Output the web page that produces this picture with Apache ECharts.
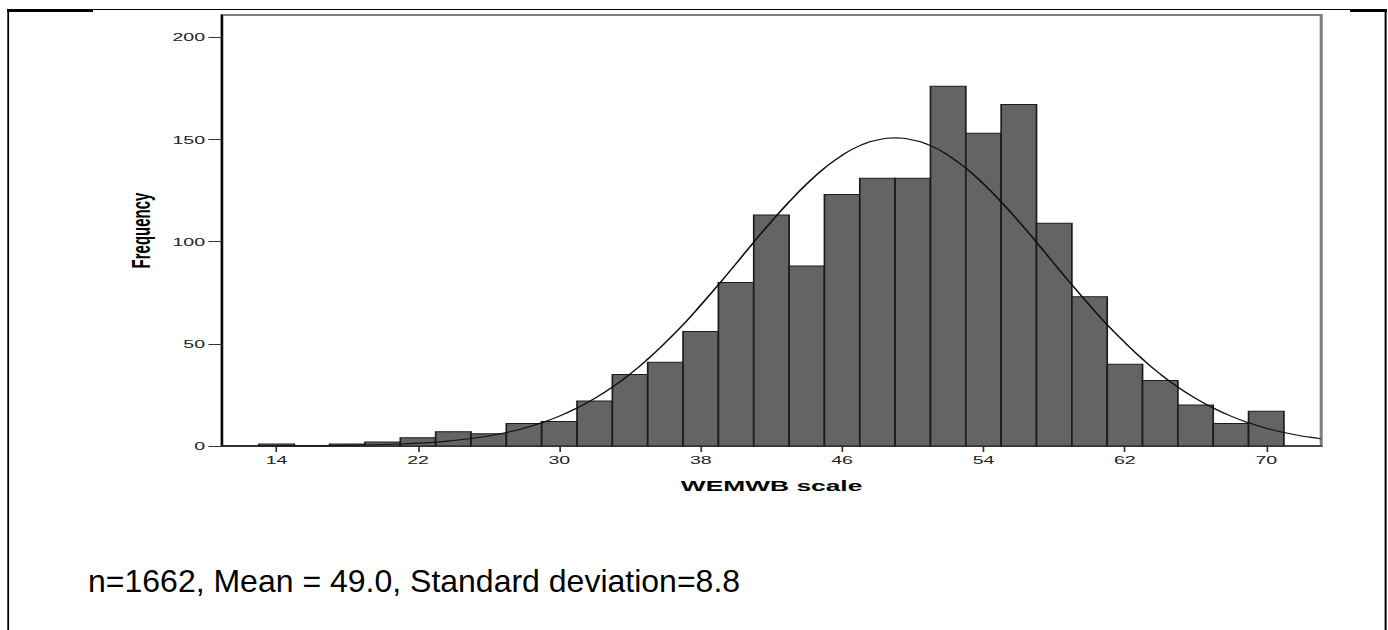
<!DOCTYPE html>
<html>
<head>
<meta charset="utf-8">
<title>WEMWB scale histogram</title>
<script src="https://cdn.jsdelivr.net/npm/echarts@6.0.0/dist/echarts.min.js"></script>
<style>
  html, body { margin: 0; padding: 0; background: #fff; }
  body { width: 1388px; height: 630px; position: relative; overflow: hidden; }
  /* the source plot is stretched sideways, so it is drawn narrow and widened */
  #hist { position: absolute; left: 0; top: 0; width: 816.47px; height: 630px; transform: scaleX(1.7); transform-origin: 0 0; }
  #page { position: absolute; left: 0; top: 0; width: 1388px; height: 630px; pointer-events: none; }
</style>
</head>
<body>
<div id="hist"></div>
<div id="page"></div>
<script>
var binWidth = 2;
var binCenters = [14, 16, 18, 20, 22, 24, 26, 28, 30, 32, 34, 36, 38, 40, 42, 44, 46, 48, 50, 52, 54, 56, 58, 60, 62, 64, 66, 68, 70];
var binCounts = [1, 0, 1, 2, 4, 7, 6, 11, 12, 22, 35, 41, 56, 80, 113, 88, 123, 131, 131, 176, 153, 167, 109, 73, 40, 32, 20, 11, 17];

// normal curve
var curveX = [10.9, 11, 12, 13, 14, 15, 16, 17, 18, 19, 20, 21, 22, 23, 24, 25, 26, 27, 28, 29, 30, 31, 32, 33, 34, 35, 36, 37, 38, 39, 40, 41, 42, 43, 44, 45, 46, 47, 48, 49, 50, 51, 52, 53, 54, 55, 56, 57, 58, 59, 60, 61, 62, 63, 64, 65, 66, 67, 68, 69, 70, 71, 72, 73, 73.1];
var curveY = [0, 0, 0, 0, 0.1, 0.1, 0.1, 0.2, 0.3, 0.5, 0.7, 1.0, 1.4, 1.9, 2.7, 3.7, 4.9, 6.6, 8.7, 11.4, 14.6, 18.6, 23.3, 28.8, 35.2, 42.5, 50.6, 59.3, 68.9, 78.9, 89.2, 99.7, 109.8, 119.4, 128.2, 135.9, 142.2, 146.9, 149.7, 150.7, 149.7, 146.9, 142.2, 135.9, 128.2, 119.4, 109.8, 99.7, 89.2, 78.9, 68.9, 59.3, 50.6, 42.5, 35.2, 28.8, 23.3, 18.6, 14.6, 11.4, 8.7, 6.6, 4.9, 3.7, 3.5];

var xTicks = [14, 22, 30, 38, 46, 54, 62, 70];
var yTicks = [0, 50, 100, 150, 200];
var footNote = "n=1662, Mean = 49.0, Standard deviation=8.8";

function renderBin(params, api) {
  var c = api.value(0);
  var top = api.coord([c - binWidth / 2, api.value(1)]);
  var base = api.coord([c + binWidth / 2, 0]);
  return {
    type: "rect",
    shape: { x: top[0], y: top[1], width: base[0] - top[0], height: base[1] - top[1] },
    style: { fill: "#646464", stroke: "#1c1c1c", lineWidth: 1 }
  };
}

function initHist() {
  var chart = echarts.init(document.getElementById("hist"), null, { renderer: "svg" });
  var labelFont = { color: "#222", fontFamily: "Liberation Sans, Arial, sans-serif", fontSize: 11.5 };
  chart.setOption({
    animation: false,
    grid: {
      left: 130.59,
      right: 38.82,
      top: 15,
      bottom: 184,
      show: true,
      borderColor: "#808080",
      borderWidth: 1.8
    },
    xAxis: {
      type: "value",
      min: 10.91,
      max: 73.11,
      name: "WEMWB scale",
      nameLocation: "middle",
      nameGap: 32,
      nameTextStyle: { color: "#000", fontFamily: "Liberation Sans, Arial, sans-serif", fontWeight: "bold", fontSize: 15.5 },
      axisLine: { show: true, lineStyle: { color: "#333", width: 1.5 } },
      axisTick: { show: true, length: 6, customValues: xTicks, lineStyle: { color: "#333", width: 1 } },
      axisLabel: Object.assign({ margin: 8, customValues: xTicks }, labelFont),
      splitLine: { show: false }
    },
    yAxis: {
      type: "value",
      min: 0,
      max: 210.8,
      name: "Frequency",
      nameLocation: "middle",
      nameGap: 40,
      nameTextStyle: { color: "#000", fontFamily: "Liberation Sans, Arial, sans-serif", fontWeight: "bold", fontSize: 15 },
      axisLine: { show: true, lineStyle: { color: "#000", width: 1.2 } },
      axisTick: { show: true, length: 8, customValues: yTicks, lineStyle: { color: "#333", width: 1 } },
      axisLabel: Object.assign({ margin: 10, customValues: yTicks }, labelFont),
      splitLine: { show: false }
    },
    series: [
      {
        type: "custom",
        renderItem: renderBin,
        data: binCenters.map(function (c, i) { return [c, binCounts[i]]; }),
        z: 2
      },
      {
        type: "line",
        smooth: true,
        showSymbol: false,
        data: curveX.map(function (x, i) { return [x, curveY[i]]; }),
        lineStyle: { color: "#111", width: 1.1 },
        z: 3
      }
    ]
  });
}

function initPage() {
  var chart = echarts.init(document.getElementById("page"), null, { renderer: "svg" });
  chart.setOption({
    animation: false,
    graphic: [
      { type: "line", shape: { x1: 7, y1: 9.5, x2: 1387, y2: 9.5 }, style: { stroke: "#000", lineWidth: 1 } },
      { type: "rect", shape: { x: 7, y: 10, width: 86, height: 2 }, style: { fill: "#000" } },
      { type: "rect", shape: { x: 1350, y: 10, width: 37, height: 2 }, style: { fill: "#000" } },
      { type: "rect", shape: { x: 7.3, y: 9, width: 1.8, height: 621 }, style: { fill: "#000" } },
      { type: "rect", shape: { x: 1384.6, y: 9, width: 2, height: 621 }, style: { fill: "#000" } },
      {
        type: "text",
        x: 88,
        y: 580.5,
        style: { text: footNote, fill: "#000", font: "32px Liberation Sans, Arial, sans-serif", verticalAlign: "middle" }
      }
    ]
  });
}

initHist();
initPage();
</script>
</body>
</html>
